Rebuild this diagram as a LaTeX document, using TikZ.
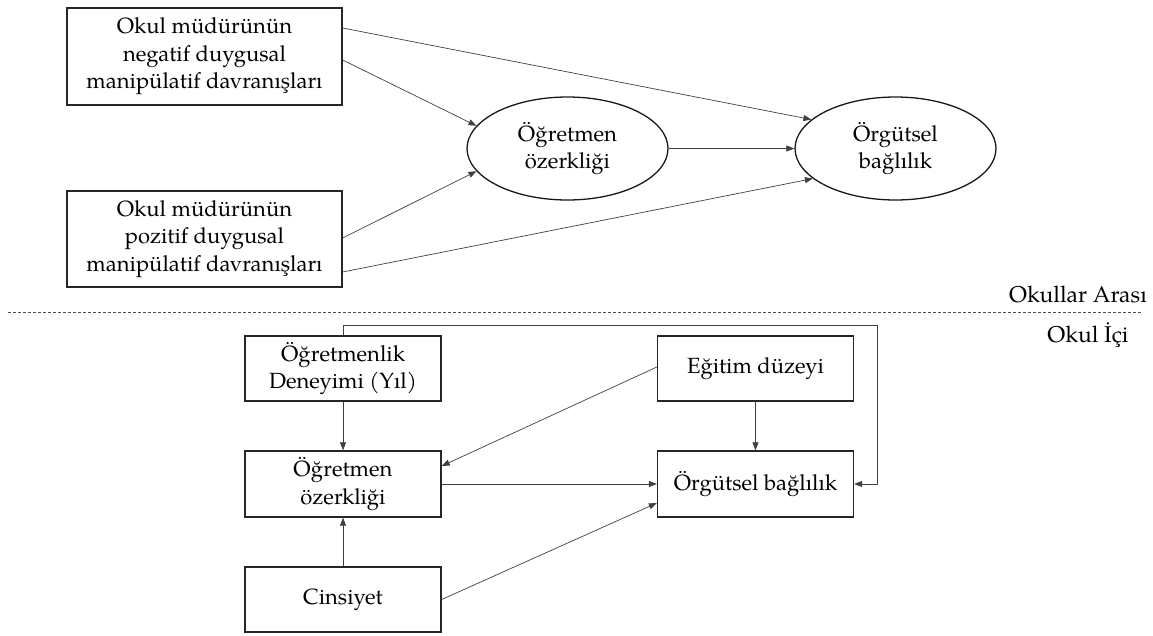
\documentclass[tikz,border=0pt]{standalone}
\usepackage{fontspec}
\setmainfont{TeX Gyre Pagella}
\usetikzlibrary{shapes.geometric,arrows.meta,calc}
\begin{document}
\begin{tikzpicture}[x=1pt,y=-1pt,
  txt/.style={font=\fontsize{22}{27.5}\selectfont, align=center, inner sep=0pt},
  box/.style={txt, draw=black!85, line width=1.3pt, rectangle},
  ell/.style={txt, draw=black!90, line width=1.3pt, ellipse, minimum width=201pt, minimum height=103pt},
  conn/.style={draw=black!75, line width=0.7pt, -{Triangle[length=8pt,width=6pt]}},
  lbl/.style={font=\fontsize{22.8}{27.5}\selectfont, inner sep=0pt}
]
\useasboundingbox (0,0) rectangle (1153,635);
% top level
\node[box, minimum width=275pt, minimum height=97pt] (b1) at (204.5,56.5) {Okul müdürünün\\negatif duygusal\\manipülatif davranışları};
\node[box, minimum width=275pt, minimum height=96pt] (b2) at (204.5,239) {Okul müdürünün\\pozitif duygusal\\manipülatif davranışları};
\node[ell] (e1) at (567.5,148.5) {Öğretmen\\özerkliği};
\node[ell] (e2) at (895.5,148.5) {Örgütsel\\bağlılık};
\draw[conn] ([yshift=28.5pt]b1.east) -- (e2.161);
\draw[conn] ([yshift=-3.5pt]b1.east) -- (e1.166);
\draw[conn] ([yshift=1pt]b2.east) -- (e1.194);
\draw[conn] ([yshift=-33pt]b2.east) -- (e2.200);
\draw[conn] (e1.east) -- (e2.west);
% separator
\coordinate (dl) at (8,312);
\coordinate (dr) at (1143,312);
\draw[black!70, line width=0.6pt, dash pattern=on 3pt off 2pt] (dl) -- (dr);
\node[lbl, anchor=east] (ara) at (1147,294) {Okullar Arası};
\node[lbl] (ici) at (1088,335) {Okul İçi};
% bottom level
\node[box, minimum width=196pt, minimum height=65pt] (d) at (343,368.5) {Öğretmenlik\\Deneyimi (Yıl)};
\node[box, minimum width=196pt, minimum height=66pt] (oz) at (343,484) {Öğretmen\\özerkliği};
\node[box, minimum width=196pt, minimum height=65pt] (c) at (343,599.5) {Cinsiyet};
\node[box, minimum width=196pt, minimum height=65pt] (eg) at (755.5,368.5) {Eğitim düzeyi};
\node[box, minimum width=196pt, minimum height=66pt] (ob) at (755.5,484) {Örgütsel bağlılık};
\coordinate (lp) at (877,325);
\draw[conn] (d.south) -- (oz.north);
\draw[conn] (c.north) -- (oz.south);
\draw[conn] (eg.south) -- (ob.north);
\draw[conn] ([yshift=1.5pt]eg.west) -- ([yshift=18pt]oz.east);
\draw[conn] (oz.east) -- (ob.west);
\draw[conn] (c.east) -- ([yshift=-19pt]ob.west);
\draw[conn] (d.north) |- (lp) |- (ob.east);
\end{tikzpicture}
\end{document}
